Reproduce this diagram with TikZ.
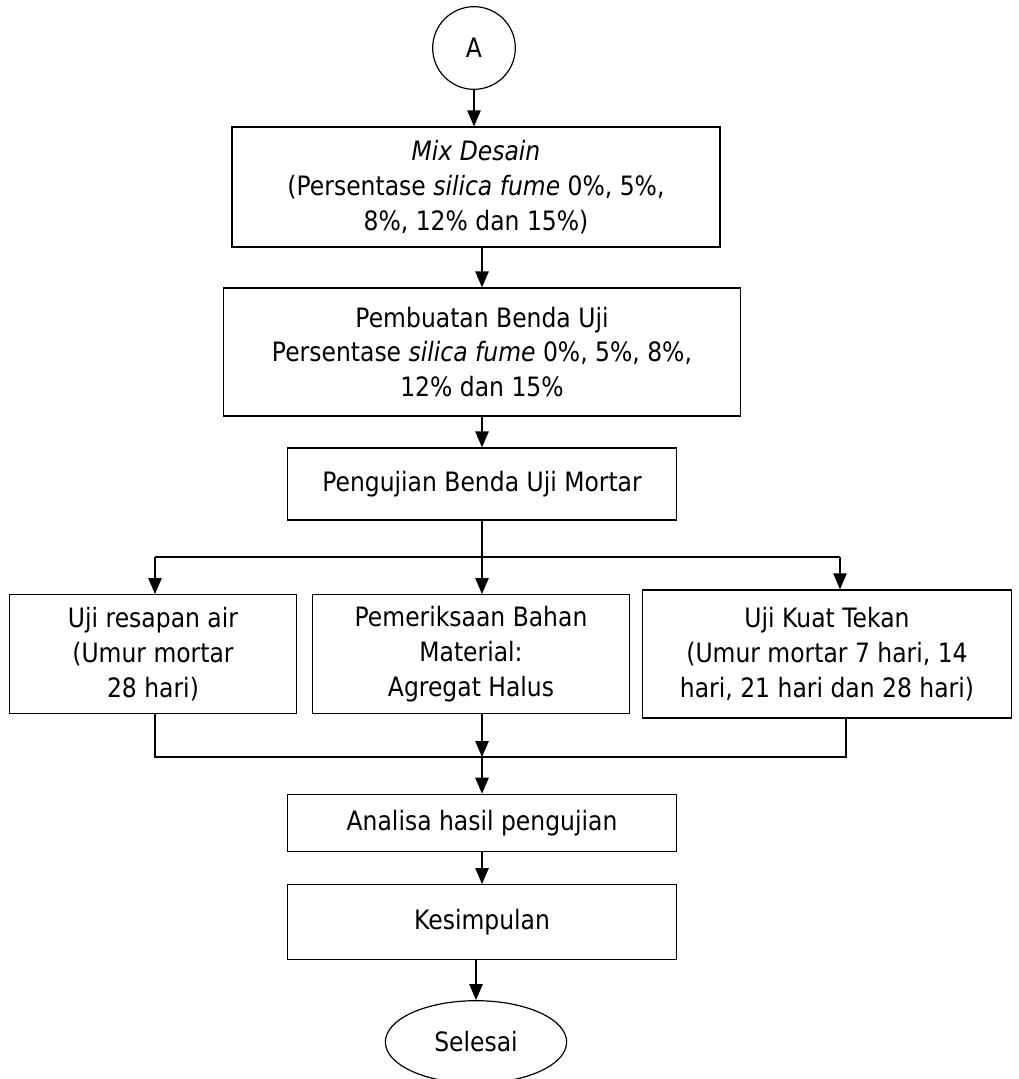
\documentclass[tikz,border=0pt]{standalone}
\usepackage{fontspec}
\setmainfont{DejaVu Sans}[FakeStretch=0.88]
\usetikzlibrary{arrows.meta,shapes.geometric}

\begin{document}
\begin{tikzpicture}[x=0.75pt,y=-0.75pt,
box/.style={%
draw,
line width=0.9pt,
align=center,
inner sep=0pt,
font=\fontsize{20}{26}\selectfont
},
flow/.style={%
-{Triangle[length=12pt,width=10pt]},
line width=1.1pt
},
link/.style={%
line width=0.8pt
},
]
\useasboundingbox (0,0) rectangle (1019,1079);
%% Top
\node[box,circle,minimum size=62pt]at(474,48)(start){A};
\node[box,minimum width=366pt,minimum height=90pt]at(476,187)(mix){\textit{Mix Desain}\\(Persentase \textit{silica fume} 0\%, 5\%,\\8\%, 12\% dan 15\%)};
\node[box,minimum width=388pt,minimum height=96pt]at(482,352)(make){Pembuatan Benda Uji\\Persentase \textit{silica fume} 0\%, 5\%, 8\%,\\12\% dan 15\%};
\node[box,minimum width=292pt,minimum height=54pt]at(482,484)(test){Pengujian Benda Uji Mortar};
\draw[flow] (start.south)--(start.south|-mix.north);
\draw[flow] (mix.south-|make.north)--(make.north);
\draw[flow] (make.south)--(make.south|-test.north);
%% Branches
\node[box,minimum width=215pt,minimum height=89pt]at(153,654)(water){Uji resapan air\\(Umur mortar\\28 hari)};
\node[box,minimum width=238pt,minimum height=89pt]at(471,654)(mat){Pemeriksaan Bahan\\Material:\\Agregat Halus};
\node[box,minimum width=277pt,minimum height=96pt]at(827,654)(press){Uji Kuat Tekan\\(Umur mortar 7 hari, 14\\hari, 21 hari dan 28 hari)};
\coordinate (split) at (482,557);
\coordinate (splitl) at (155,557);
\coordinate (splitr) at (840,557);
\draw[link] (test.south)--(split);
\draw[link] (splitl)--(splitr);
\draw[flow] (splitl)--(splitl|-water.north);
\draw[flow] (split)--(split|-mat.north);
\draw[flow] (splitr)--(splitr|-press.north);
%% Join
\coordinate (join) at (482,757);
\coordinate (joinl) at (155,757);
\coordinate (joinr) at (846,757);
\draw[link] (joinl|-water.south)--(joinl)--(joinr)--(joinr|-press.south);
\draw[flow] (join|-mat.south)--(join);
%% Bottom
\node[box,minimum width=292pt,minimum height=43pt]at(482,823)(ana){Analisa hasil pengujian};
\node[box,minimum width=292pt,minimum height=56pt]at(482,922)(end){Kesimpulan};
\node[box,ellipse,minimum width=136pt,minimum height=62pt]at(476,1042)(done){Selesai};
\draw[flow] (join)--(join|-ana.north);
\draw[flow] (ana.south)--(end.north);
\draw[flow] (end.south-|done.north)--(done.north);
\end{tikzpicture}
\end{document}
